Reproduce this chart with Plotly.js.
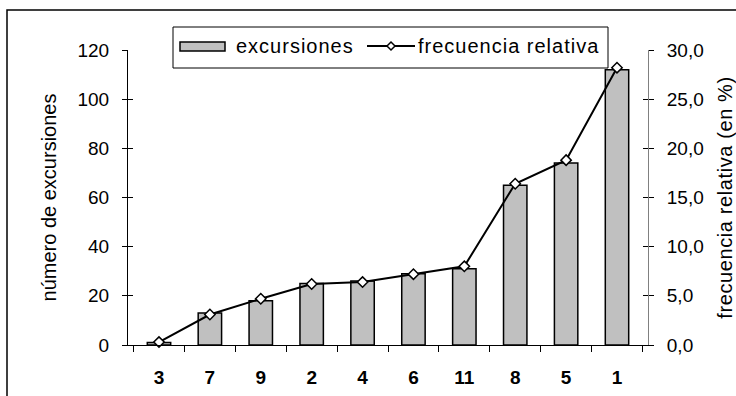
<!DOCTYPE html>
<html>
<head>
<meta charset="utf-8">
<script src="https://cdn.plot.ly/plotly-3.0.1.min.js"></script>
<style>
  html, body { margin: 0; padding: 0; background: #fff; }
  #chart { width: 736px; height: 396px; }
  .annotation-text { letter-spacing: 1px; }
  .y2title { letter-spacing: 0.6px; }
</style>
</head>
<body>
<div id="chart"></div>
<script>
// Data
const categories = ['3', '7', '9', '2', '4', '6', '11', '8', '5', '1'];
const excursiones = [1, 13, 18, 25, 26, 29, 31, 65, 74, 112];
const frecuenciaRelativa = [0.3, 3.1, 4.7, 6.2, 6.4, 7.2, 8.0, 16.4, 18.8, 28.2];
const leftTicks = [0, 20, 40, 60, 80, 100, 120];
const rightTicks = [0, 5, 10, 15, 20, 25, 30];
const legendLabels = ['excursiones', 'frecuencia relativa'];

// Layout geometry (pixels)
const W = 736, H = 396;
const L = 128, R = 648, T = 50, B = 345;
const px = x => (x - L) / (R - L);
const py = y => (B - y) / (B - T);

const FONT = 'Liberation Sans, Arial, sans-serif';

const barTrace = {
  type: 'bar',
  x: categories,
  y: excursiones,
  name: legendLabels[0],
  marker: { color: '#c0c0c0', line: { color: '#000', width: 1.5 } },
  showlegend: false
};

const lineTrace = {
  type: 'scatter',
  mode: 'lines+markers',
  x: categories,
  y: frecuenciaRelativa,
  name: legendLabels[1],
  yaxis: 'y2',
  line: { color: '#000', width: 2 },
  marker: { symbol: 'diamond', size: 8, color: '#fff', line: { color: '#000', width: 1.5 } },
  cliponaxis: false,
  showlegend: false
};

// Legend drawn in the same style as the reference (box with symbol samples)
const dX = 4 / (R - L), dY = 4 / (B - T);
const cx = px(391), cy = py(46);
const shapes = [
  { type: 'rect', xref: 'paper', yref: 'paper', x0: px(7), x1: px(800), y0: py(450), y1: py(10),
    line: { color: '#000', width: 1.5 }, fillcolor: 'rgba(0,0,0,0)', layer: 'below' },
  { type: 'rect', xref: 'paper', yref: 'paper', x0: px(173), x1: px(608), y0: py(68), y1: py(27),
    line: { color: '#000', width: 1 }, fillcolor: '#fff', layer: 'below' },
  { type: 'rect', xref: 'paper', yref: 'paper', x0: px(180), x1: px(225), y0: py(51), y1: py(42),
    line: { color: '#000', width: 1.5 }, fillcolor: '#c0c0c0' },
  { type: 'line', xref: 'paper', yref: 'paper', x0: px(367), x1: px(415), y0: cy, y1: cy,
    line: { color: '#000', width: 2 } },
  { type: 'path', xref: 'paper', yref: 'paper',
    path: `M ${cx - dX},${cy} L ${cx},${cy + dY} L ${cx + dX},${cy} L ${cx},${cy - dY} Z`,
    line: { color: '#000', width: 1.5 }, fillcolor: '#fff' }
];

const annotations = [
  { xref: 'paper', yref: 'paper', x: px(234), y: py(46), xanchor: 'left', yanchor: 'middle',
    text: legendLabels[0], showarrow: false, font: { family: FONT, size: 20, color: '#000' } },
  { xref: 'paper', yref: 'paper', x: px(416), y: py(46), xanchor: 'left', yanchor: 'middle',
    text: legendLabels[1], showarrow: false, font: { family: FONT, size: 20, color: '#000' } }
];

const layout = {
  width: W, height: H,
  margin: { l: L, r: W - R, t: T, b: H - B, pad: 0 },
  paper_bgcolor: '#fff', plot_bgcolor: '#fff',
  separators: ',.',
  font: { family: FONT, size: 19, color: '#000' },
  bargap: 0.54,
  showlegend: false,
  xaxis: {
    type: 'category',
    showline: true, linecolor: '#000', linewidth: 1,
    ticks: 'outside', tickson: 'boundaries', ticklen: 6, tickcolor: '#000', tickwidth: 1,
    tickfont: { family: FONT, size: 19, weight: 'bold', color: '#000' },
    ticklabelstandoff: 15,
    showgrid: false, zeroline: false, fixedrange: true
  },
  yaxis: {
    range: [0, 120], tickvals: leftTicks, ticktext: leftTicks.map(String),
    tickfont: { family: FONT, size: 19, color: '#000' },
    showline: true, linecolor: '#000', linewidth: 1,
    ticks: 'outside', ticklen: 5, tickcolor: '#000', tickwidth: 1,
    ticklabelstandoff: 9,
    showgrid: false, zeroline: false,
    title: { text: 'número de excursiones', font: { family: FONT, size: 20 }, standoff: 15 }
  },
  yaxis2: {
    range: [0, 30], overlaying: 'y', side: 'right', tickvals: rightTicks, tickformat: '.1f',
    tickfont: { family: FONT, size: 19, color: '#000' },
    showline: true, linecolor: '#808080', linewidth: 1,
    ticks: 'outside', ticklen: 5, tickcolor: '#000', tickwidth: 1,
    ticklabelstandoff: 9,
    showgrid: false, zeroline: false,
    title: { text: 'frecuencia relativa (en %)', font: { family: FONT, size: 20 }, standoff: 16 }
  },
  yaxis3: {
    range: [0, 120], overlaying: 'y', side: 'left', tickvals: leftTicks,
    ticks: 'inside', ticklen: 5, tickcolor: '#000', showticklabels: false,
    showline: false, showgrid: false, zeroline: false
  },
  yaxis4: {
    range: [0, 30], overlaying: 'y', side: 'right', tickvals: rightTicks,
    ticks: 'inside', ticklen: 5, tickcolor: '#000', showticklabels: false,
    showline: false, showgrid: false, zeroline: false
  },
  shapes: shapes,
  annotations: annotations
};

// Invisible helper traces to bind the tick-only overlay axes
const helper3 = { type: 'scatter', x: [categories[0]], y: [0], yaxis: 'y3', mode: 'markers',
  marker: { opacity: 0 }, hoverinfo: 'skip', showlegend: false };
const helper4 = { type: 'scatter', x: [categories[0]], y: [0], yaxis: 'y4', mode: 'markers',
  marker: { opacity: 0 }, hoverinfo: 'skip', showlegend: false };

Plotly.newPlot('chart', [barTrace, lineTrace, helper3, helper4], layout, { displayModeBar: false, staticPlot: true });
</script>
</body>
</html>
